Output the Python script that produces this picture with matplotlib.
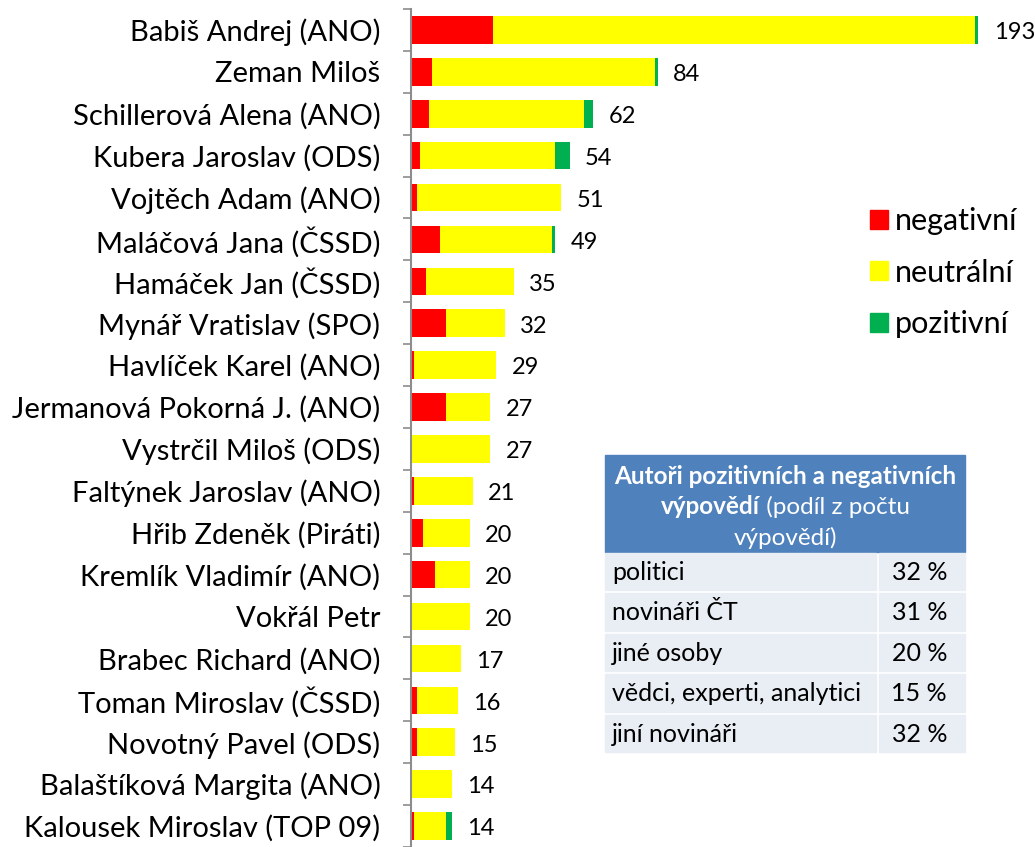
import matplotlib
matplotlib.use('Agg')
import matplotlib.pyplot as plt
from matplotlib.patches import Rectangle, Patch

plt.rcParams['font.family'] = ['Lato', 'DejaVu Sans']

# data
names = ['Babiš Andrej (ANO)', 'Zeman Miloš', 'Schillerová Alena (ANO)', 'Kubera Jaroslav (ODS)',
         'Vojtěch Adam (ANO)', 'Maláčová Jana (ČSSD)', 'Hamáček Jan (ČSSD)', 'Mynář Vratislav (SPO)',
         'Havlíček Karel (ANO)', 'Jermanová Pokorná J. (ANO)', 'Vystrčil Miloš (ODS)',
         'Faltýnek Jaroslav (ANO)', 'Hřib Zdeněk (Piráti)', 'Kremlík Vladimír (ANO)', 'Vokřál Petr',
         'Brabec Richard (ANO)', 'Toman Miroslav (ČSSD)', 'Novotný Pavel (ODS)',
         'Balaštíková Margita (ANO)', 'Kalousek Miroslav (TOP 09)']
negativni = [28, 7, 6, 3, 2, 10, 5, 12, 1, 12, 0, 1, 4, 8, 0, 0, 2, 2, 0, 1]
neutralni = [164, 76, 53, 46, 49, 38, 30, 20, 28, 15, 27, 20, 16, 12, 20, 17, 14, 13, 14, 11]
pozitivni = [1, 1, 3, 5, 0, 1, 0, 0, 0, 0, 0, 0, 0, 0, 0, 0, 0, 0, 0, 2]
celkem = [193, 84, 62, 54, 51, 49, 35, 32, 29, 27, 27, 21, 20, 20, 20, 17, 16, 15, 14, 14]

legend_labels = ['negativní', 'neutrální', 'pozitivní']
colors = ['#FF0000', '#FFFF00', '#00B050']

table_title_bold1 = 'Autoři pozitivních a negativních'
table_title_bold2 = 'výpovědí'
table_title_reg2 = ' (podíl z počtu'
table_title_reg3 = 'výpovědí)'
table_rows = ['politici', 'novináři ČT', 'jiné osoby', 'vědci, experti, analytici', 'jiní novináři']
table_vals = ['32 %', '31 %', '20 %', '15 %', '32 %']

W, H = 1035, 847
fig = plt.figure(figsize=(W / 100, H / 100), dpi=100)
ax = fig.add_axes([411 / W, 0, 588 / W, 838 / H])

y = list(range(len(names)))
left2 = [a + b for a, b in zip(negativni, neutralni)]
ax.barh(y, negativni, height=0.66, color=colors[0], label=legend_labels[0])
ax.barh(y, neutralni, left=negativni, height=0.66, color=colors[1], label=legend_labels[1])
ax.barh(y, pozitivni, left=left2, height=0.66, color=colors[2], label=legend_labels[2])

for yi, tot in zip(y, celkem):
    ax.annotate(str(tot), (tot, yi), xytext=(11, -2), textcoords='offset points',
                va='center', ha='left', fontsize=17, color='black')

ax.set_xlim(0, 200)
ax.set_ylim(len(names) - 0.6, -0.5)
ax.set_yticks(y)
ax.set_yticklabels(names, fontsize=21)
ax.set_yticks([i - 0.5 for i in range(len(names) + 1)], minor=True)
ax.tick_params(axis='y', which='major', length=0, pad=22)
ax.tick_params(axis='y', which='minor', length=6, color='#8C8C8C', width=1.2)
ax.set_xticks([])
for s in ['top', 'right', 'bottom']:
    ax.spines[s].set_visible(False)
ax.spines['left'].set_color('#8C8C8C')
ax.spines['left'].set_linewidth(1.5)

handles = [Patch(color=c) for c in colors]
fig.legend(handles, legend_labels, loc='upper left', bbox_to_anchor=(870 / W, 1 - 207 / H),
           frameon=False, fontsize=22, handlelength=0.6, handleheight=0.6, handletextpad=0.2,
           labelspacing=0.77, borderpad=0, borderaxespad=0)

# table drawn in pixel coordinates
tx = fig.add_axes([0, 0, 1, 1])
tx.set_xlim(0, W)
tx.set_ylim(H, 0)
tx.axis('off')
x0, x1, xc = 605, 965, 877
tx.add_patch(Rectangle((x0, 455), x1 - x0, 97, color='#4F81BD'))
row_h = 40.5
for i, (lab, val) in enumerate(zip(table_rows, table_vals)):
    top = 553 + i * row_h
    tx.add_patch(Rectangle((x0, top), xc - x0 - 1.5, row_h - 3, color='#E9EDF4'))
    tx.add_patch(Rectangle((xc + 1.5, top), x1 - xc - 1.5, row_h - 3, color='#E9EDF4'))
    tx.text(612, top + row_h / 2 - 1, lab, fontsize=18, va='center', ha='left')
    tx.text(947, top + row_h / 2 - 1, val, fontsize=18, va='center', ha='right')

xm = (x0 + x1) / 2
tx.text(xm, 476, table_title_bold1, fontsize=17.5, fontweight='bold', color='white',
        ha='center', va='center')
r = fig.canvas.get_renderer()
tb = tx.text(0, 507, table_title_bold2, fontsize=17.5, fontweight='bold', color='white',
             ha='left', va='center')
tr = tx.text(0, 507, table_title_reg2, fontsize=17.5, color='white', ha='left', va='center')
wb = tb.get_window_extent(r).width
wr = tr.get_window_extent(r).width
start = xm - (wb + wr) / 2
tb.set_x(start)
tr.set_x(start + wb)
tx.text(xm, 538, table_title_reg3, fontsize=17.5, color='white', ha='center', va='center')

fig.savefig('out.png', dpi=100)
